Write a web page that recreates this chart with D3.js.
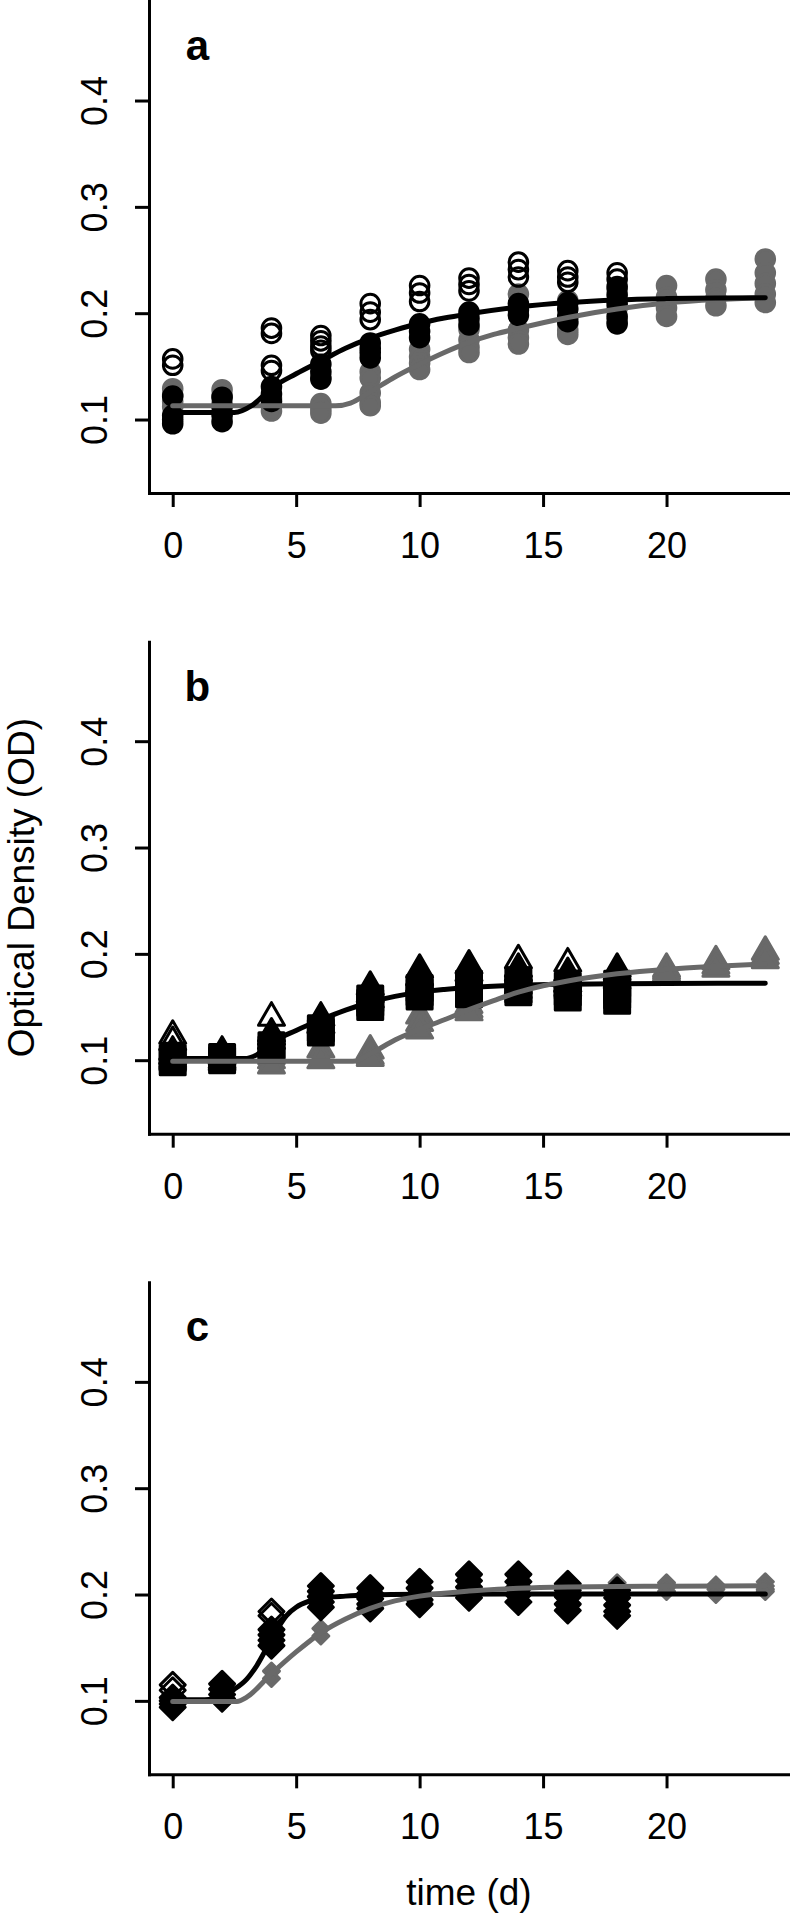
<!DOCTYPE html>
<html><head><meta charset="utf-8">
<script src="https://cdn.jsdelivr.net/npm/d3@7"></script>
<style>
html,body{margin:0;padding:0;background:#fff;}
svg{display:block;}
text{font-family:"Liberation Sans",Arial,Helvetica,sans-serif;}
</style></head><body><svg id="chart" width="790" height="1922"></svg>
<script>
// ---------- axes / labels ----------
const xTicks = [0, 5, 10, 15, 20];
const yTicks = [0.1, 0.2, 0.3, 0.4];
const panelLabels = ["a", "b", "c"];
const yTitle = "Optical Density (OD)";
const xTitle = "time (d)";

// ---------- panel a (circles) : [day, [OD replicates]] ----------
const aOpen = [[0,[0.157,0.151]],[4,[0.186,0.181,0.151,0.146]],[6,[0.179,0.174,0.169,0.165]],
  [8,[0.209,0.201,0.194,0.167]],[10,[0.226,0.219,0.211]],[12,[0.233,0.227,0.221]],
  [14,[0.248,0.241,0.234]],[16,[0.240,0.234,0.229]],[18,[0.238,0.232]]];
const aBlack = [[0,[0.122,0.104,0.100,0.096]],[2,[0.121,0.112,0.104,0.098]],[4,[0.131,0.124,0.117]],
  [6,[0.152,0.145,0.138]],[8,[0.172,0.163,0.158]],[10,[0.190,0.183,0.177]],[12,[0.201,0.195,0.189]],
  [14,[0.209,0.203,0.198]],[16,[0.210,0.204,0.197,0.192]],[18,[0.225,0.217,0.209,0.197,0.190]]];
const aGray = [[0,[0.129,0.123,0.117,0.112]],[2,[0.128,0.122,0.115]],[4,[0.120,0.113,0.108]],
  [6,[0.140,0.115,0.110,0.106]],[8,[0.145,0.139,0.125,0.116,0.113]],[10,[0.166,0.159,0.153,0.147]],
  [12,[0.185,0.175,0.168,0.163]],[14,[0.218,0.184,0.177,0.171]],[16,[0.212,0.190,0.184,0.180]],
  [18,[0.222,0.205,0.193]],[20,[0.226,0.215,0.205,0.197]],[22,[0.232,0.222,0.214,0.207]],
  [24,[0.251,0.238,0.228,0.218,0.210]]];
const aBlackFit = [[0,0.1066],[2.5,0.1066],[3.2,0.113],[4,0.1295],[5,0.143],[6,0.155],[7,0.167],[8,0.1765],
  [9,0.184],[10,0.1905],[11,0.1955],[12,0.1994],[14,0.2058],[16,0.21],[18,0.2125],[20,0.2137],[22,0.2143],[24,0.2146]];
const aGrayFit = [[0,0.113],[6.6,0.113],[7.2,0.1155],[8,0.126],[9,0.14],[10,0.152],[11,0.163],[12,0.1725],
  [13,0.18],[14,0.1857],[16,0.196],[18,0.204],[20,0.2095],[22,0.2128],[24,0.2146]];

// ---------- panel b (triangles / squares) ----------
const bOpen = [[0,[0.123,0.117]],[4,[0.140,0.122]],[14,[0.194,0.186]],[16,[0.191,0.182]]];
const bTri = [[0,[0.108,0.104]],[2,[0.108,0.104]],[4,[0.125,0.118]],[6,[0.140,0.133]],
  [8,[0.169,0.162,0.157]],[10,[0.185,0.178,0.172]],[12,[0.189,0.182,0.176]],[14,[0.182,0.176]],
  [16,[0.178,0.172]],[18,[0.186,0.179]]];
const bSquare = [[0,[0.102,0.098]],[2,[0.103,0.100]],[4,[0.114,0.110]],[6,[0.130,0.126]],
  [8,[0.158,0.154,0.150]],[10,[0.168,0.164,0.160]],[12,[0.172,0.167,0.162]],[14,[0.175,0.168,0.164]],
  [16,[0.170,0.164,0.159]],[18,[0.172,0.166,0.161,0.156]]];
const bGray = [[0,[0.101,0.099]],[2,[0.100,0.098]],[4,[0.104,0.100,0.095]],[6,[0.110,0.100]],
  [8,[0.109,0.104,0.102]],[10,[0.142,0.135,0.128]],[12,[0.152,0.148,0.145]],[14,[0.170,0.166,0.162]],
  [16,[0.176,0.172,0.168]],[18,[0.183,0.179,0.175]],[20,[0.186,0.184,0.182]],[22,[0.193,0.189,0.186]],
  [24,[0.202,0.198,0.194]]];
const bBlackFit = [[0,0.1015],[2.9,0.1015],[3.4,0.105],[4,0.1165],[5,0.128],[6,0.138],[7,0.147],[8,0.1545],
  [9,0.16],[10,0.164],[11,0.1665],[12,0.1683],[14,0.1705],[16,0.1715],[18,0.172],[20,0.1722],[24,0.1723]];
const bGrayFit = [[0,0.099],[7.3,0.099],[8,0.106],[9,0.119],[10,0.129],[11,0.138],[12,0.1475],[13,0.156],
  [14,0.164],[15,0.17],[16,0.1745],[18,0.1812],[20,0.1856],[22,0.1884],[24,0.1905]];

// ---------- panel c (diamonds) ----------
const cOpen = [[0,[0.115,0.110]],[4,[0.184,0.180]]];
const cBlack = [[0,[0.103,0.100,0.097,0.094]],[2,[0.116,0.111,0.106,0.102]],[4,[0.167,0.162,0.157,0.152]],
  [6,[0.208,0.203,0.198,0.193,0.188]],[8,[0.206,0.201,0.196,0.191,0.187]],[10,[0.212,0.206,0.200,0.195,0.191]],
  [12,[0.219,0.213,0.207,0.202,0.197]],[14,[0.219,0.212,0.206,0.200,0.193]],[16,[0.210,0.204,0.198,0.191,0.185]],
  [18,[0.204,0.197,0.190,0.184,0.180]]];
const cGray = [[0,[0.100,0.098]],[2,[0.108,0.104,0.101]],[4,[0.128,0.121]],[6,[0.168,0.161]],
  [8,[0.190,0.186]],[10,[0.200,0.197]],[12,[0.205,0.202]],[14,[0.207,0.204]],[16,[0.208,0.205]],
  [18,[0.211,0.208]],[20,[0.211,0.207,0.203]],[22,[0.209,0.205,0.200]],[24,[0.212,0.208,0.205,0.203]]];
const cBlackFit = [[0,0.101],[1.3,0.101],[2,0.1045],[2.5,0.111],[3,0.1205],[3.4,0.133],[4,0.158],[4.6,0.18],
  [5,0.188],[5.5,0.1935],[6,0.1965],[7,0.1985],[8,0.1995],[10,0.2002],[14,0.2005],[24,0.2005]];
const cGrayFit = [[0,0.0995],[2.6,0.0995],[3,0.1035],[4,0.1255],[5,0.146],[6,0.164],[7,0.177],[8,0.187],
  [9,0.194],[10,0.1985],[12,0.2033],[14,0.2058],[16,0.207],[20,0.2078],[24,0.2082]];

// ---------- styling / layout ----------
const W = 790, H = 1922, panelH = H / 3;
const left = 149, right = 789, topOff = 1, botOff = 493;
const GRAY = "#696969";
const FONT = 36;

function circlePath(r){ return `M${r},0A${r},${r},0,1,1,${-r},0A${r},${r},0,1,1,${r},0Z`; }
function triPath(r){ return `M0,${-r}L${r*0.866},${r/2}L${-r*0.866},${r/2}Z`; }
function sqPath(h){ return `M${-h},${-h}H${h}V${h}H${-h}Z`; }
function diaPath(h){ return `M0,${-h}L${h},0L0,${h}L${-h},0Z`; }

const panels = [
  { layers: [
      {data: aGray, d: circlePath(9.3), fill: GRAY, stroke: GRAY, sw: 3},
      {data: aBlack, d: circlePath(9.3), fill: "#000", stroke: "#000", sw: 3},
      {data: aOpen, d: circlePath(9.3), fill: "none", stroke: "#000", sw: 3}],
    fits: [{data: aGrayFit, color: GRAY}, {data: aBlackFit, color: "#000"}] },
  { layers: [
      {data: bGray, d: triPath(15), fill: GRAY, stroke: GRAY, sw: 3},
      {data: bSquare, d: sqPath(12.5), fill: "#000", stroke: "#000", sw: 3},
      {data: bTri, d: triPath(15), fill: "#000", stroke: "#000", sw: 3},
      {data: bOpen, d: triPath(15), fill: "none", stroke: "#000", sw: 3}],
    fits: [{data: bBlackFit, color: "#000"}, {data: bGrayFit, color: GRAY}] },
  { layers: [
      {data: cGray, d: diaPath(8), fill: GRAY, stroke: GRAY, sw: 3},
      {data: cBlack, d: diaPath(12.5), fill: "#000", stroke: "#000", sw: 3},
      {data: cOpen, d: diaPath(12.5), fill: "none", stroke: "#000", sw: 3}],
    fits: [{data: cBlackFit, color: "#000"}, {data: cGrayFit, color: GRAY}] }
];

const svg = d3.select("#chart");

panels.forEach((p, i) => {
  const top = i * panelH;
  const g = svg.append("g").attr("transform", `translate(0,${top})`);
  const x = d3.scaleLinear().domain([-0.96, 24.96]).range([left, right]);
  const y = d3.scaleLinear().domain([0.0309, 0.4936]).range([botOff, topOff]);

  // points
  p.layers.forEach(L => {
    const pts = L.data.flatMap(([t, vals]) => vals.map(v => [t, v]));
    g.append("g").selectAll("path").data(pts).join("path")
      .attr("d", L.d)
      .attr("transform", d => `translate(${x(d[0])},${y(d[1])})`)
      .attr("fill", L.fill).attr("stroke", L.stroke)
      .attr("stroke-width", L.sw).attr("stroke-linejoin", "round");
  });

  // fitted curves
  const line = d3.line().x(d => x(d[0])).y(d => y(d[1])).curve(d3.curveMonotoneX);
  p.fits.forEach(f => {
    g.append("path").datum(f.data).attr("d", line)
      .attr("fill", "none").attr("stroke", f.color).attr("stroke-width", 5)
      .attr("stroke-linecap", "round").attr("stroke-linejoin", "round");
  });

  // x axis
  const xa = g.append("g").attr("transform", `translate(0,${botOff})`)
    .call(d3.axisBottom(x).tickValues(xTicks).tickSize(14).tickSizeOuter(0).tickFormat(d3.format("d")));
  xa.select(".domain").attr("stroke-width", 3).attr("stroke-linecap", "square");
  xa.selectAll(".tick line").attr("stroke-width", 3);
  xa.selectAll(".tick text").attr("y", 65).attr("dy", 0).attr("font-size", FONT)
    .attr("fill", "#000").style("font-family", '"Liberation Sans",Arial,sans-serif');

  // y axis
  const ya = g.append("g").attr("transform", `translate(${left},0)`)
    .call(d3.axisLeft(y).tickValues(yTicks).tickSize(14).tickSizeOuter(0).tickFormat(d3.format(".1f")));
  ya.select(".domain").attr("stroke-width", 3).attr("stroke-linecap", "square");
  ya.selectAll(".tick line").attr("stroke-width", 3);
  ya.selectAll(".tick text").attr("transform", "rotate(-90)").attr("x", 0).attr("y", -42).attr("dy", 0)
    .attr("text-anchor", "middle").attr("font-size", FONT).attr("fill", "#000")
    .style("font-family", '"Liberation Sans",Arial,sans-serif');

  // panel label
  g.append("text").attr("x", x(1)).attr("y", y(0.45)).attr("dy", "0.3em")
    .attr("text-anchor", "middle").attr("font-size", 42).attr("font-weight", "bold")
    .text(panelLabels[i]);

  if (i === 1) {
    g.append("text").attr("transform", `translate(34,${(topOff + botOff) / 2}) rotate(-90)`)
      .attr("text-anchor", "middle").attr("font-size", 37).text(yTitle);
  }
  if (i === 2) {
    g.append("text").attr("x", (left + right) / 2).attr("y", 624)
      .attr("text-anchor", "middle").attr("font-size", 37).text(xTitle);
  }
});
</script></body></html>
